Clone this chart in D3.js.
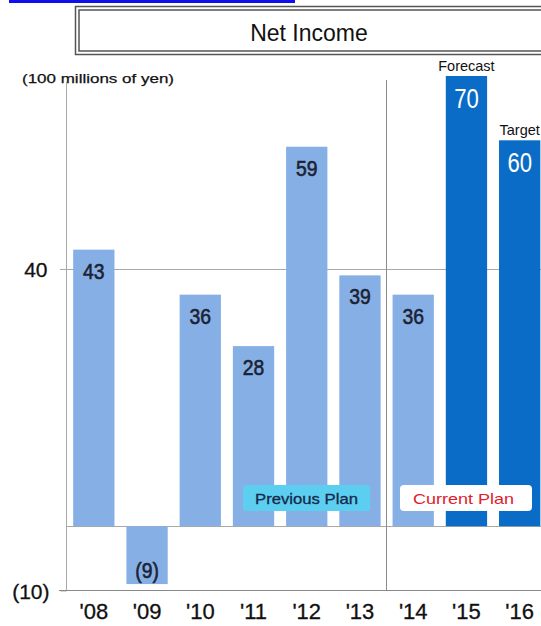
<!DOCTYPE html>
<html>
<head>
<meta charset="utf-8">
<script src="https://cdn.jsdelivr.net/npm/d3@7"></script>
<style>
  html, body { margin: 0; padding: 0; background: #fff; }
  svg { display: block; font-family: "Liberation Sans", Arial, sans-serif; }
</style>
</head>
<body>
<svg id="chart" width="541" height="626"></svg>
<script>
// Net income by fiscal year (100 millions of yen)
const years = ["'08", "'09", "'10", "'11", "'12", "'13", "'14", "'15", "'16"];
const values = [43, -9, 36, 28, 59, 39, 36, 70, 60];
const valueLabels = ["43", "(9)", "36", "28", "59", "39", "36", "70", "60"];
const barKinds = ["result", "result", "result", "result", "result", "result", "result", "plan", "plan"];
const barNotes = ["", "", "", "", "", "", "", "Forecast", "Target"];
const yTicks = [40, -10];
const yTickLabels = ["40", "(10)"];
const gridValues = [40, 0];

const svg = d3.select("#chart");
const W = 541;

const x = d3.scaleBand()
  .domain(years)
  .range([67.2, 546.3])
  .paddingInner(0.224)
  .paddingOuter(0.112);

const y = d3.scaleLinear().domain([-10, 70]).range([590.5, 76]);

const colors = { result: "#86b0e5", plan: "#0a6cc6" };

// header strip
svg.append("rect").attr("x", 9).attr("y", 0).attr("width", 286).attr("height", 3).attr("fill", "#1010ee");

// title box with double border
svg.append("rect").attr("x", 75.5).attr("y", 6.5).attr("width", 470).attr("height", 48)
  .attr("fill", "#fff").attr("stroke", "#555").attr("stroke-width", 1.5);
svg.append("rect").attr("x", 79).attr("y", 10).attr("width", 470).attr("height", 41)
  .attr("fill", "none").attr("stroke", "#555").attr("stroke-width", 1.5);
svg.append("text").attr("x", 309).attr("y", 41).attr("text-anchor", "middle")
  .attr("font-size", 23).attr("fill", "#111").text("Net Income");

// unit caption
svg.append("text").attr("x", 22).attr("y", 83).attr("font-size", 13.5)
  .attr("textLength", 152).attr("lengthAdjust", "spacingAndGlyphs")
  .attr("fill", "#111").attr("stroke", "#111").attr("stroke-width", 0.25)
  .text("(100 millions of yen)");

// gridlines
svg.append("g").selectAll("line").data(gridValues).join("line")
  .attr("x1", d => d === 0 ? 66 : 60).attr("x2", W)
  .attr("y1", d => Math.round(y(d)) + 0.5).attr("y2", d => Math.round(y(d)) + 0.5)
  .attr("stroke", "#a8a8a8").attr("stroke-width", 1);

// left axis via d3.axisLeft
const yAxis = svg.append("g").attr("transform", "translate(66.5,0)")
  .call(d3.axisLeft(y).tickValues(yTicks).tickSize(6).tickSizeOuter(0)
    .tickFormat((d, i) => yTickLabels[i]));
yAxis.select(".domain").attr("d", `M0,${y(70) + 6}V${y(-10)}`).attr("stroke", "#a8a8a8");
yAxis.selectAll(".tick line").attr("stroke", "#a8a8a8");
yAxis.selectAll(".tick text").attr("font-size", 21).attr("fill", "#111")
  .attr("stroke", "#111").attr("stroke-width", 0.3)
  .attr("font-family", "'Liberation Sans', Arial, sans-serif")
  .attr("x", (d) => d === -10 ? -17 : -19)
  .attr("dy", (d) => d === -10 ? "0.38em" : "0.35em");

// divider between previous and current plan
const divX = Math.round((x("'13") + x.bandwidth() + x("'14")) / 2) - 0.5;
svg.append("line").attr("x1", divX).attr("x2", divX).attr("y1", 80).attr("y2", y(-10))
  .attr("stroke", "#8c8c8c").attr("stroke-width", 1);

// bars
svg.append("g").selectAll("rect").data(values).join("rect")
  .attr("x", (d, i) => x(years[i]))
  .attr("width", x.bandwidth())
  .attr("y", d => y(Math.max(0, d)))
  .attr("height", d => Math.abs(y(d) - y(0)))
  .attr("fill", (d, i) => colors[barKinds[i]]);

// bottom axis line + year labels
svg.append("line").attr("x1", 59).attr("x2", W).attr("y1", y(-10)).attr("y2", y(-10))
  .attr("stroke", "#888").attr("stroke-width", 1);
const xAxis = svg.append("g").attr("transform", `translate(0,${y(-10)})`)
  .call(d3.axisBottom(x).tickSize(0));
xAxis.select(".domain").remove();
xAxis.selectAll(".tick text").attr("font-size", 22).attr("fill", "#111")
  .attr("stroke", "#111").attr("stroke-width", 0.3)
  .attr("font-family", "'Liberation Sans', Arial, sans-serif")
  .attr("dy", 0).attr("y", 28);

// value labels inside bars
const lbl = svg.append("g");
values.forEach((v, i) => {
  const cx = x(years[i]) + x.bandwidth() / 2;
  const plan = barKinds[i] === "plan";
  let by;
  if (v < 0) by = y(v) - 6;
  else by = y(v) + (plan ? 32 : 29);
  lbl.append("text")
    .attr("transform", `translate(${cx},${by}) scale(${plan ? 0.82 : 0.88},1)`)
    .attr("text-anchor", "middle")
    .attr("font-size", plan ? 27 : 22)
    .attr("fill", plan ? "#fff" : "#1c2233")
    .attr("stroke", plan ? "none" : "#1c2233").attr("stroke-width", 0.6)
    .text(valueLabels[i]);
  if (barNotes[i]) {
    lbl.append("text")
      .attr("x", cx).attr("y", y(v) - 5)
      .attr("text-anchor", "middle").attr("font-size", 14.5).attr("fill", "#111")
      .text(barNotes[i]);
  }
});

// plan tags
svg.append("rect").attr("x", 243).attr("y", 485).attr("width", 127).attr("height", 26)
  .attr("rx", 3).attr("fill", "#5ccff0");
svg.append("text").attr("x", 255).attr("y", 503.5).attr("font-size", 15)
  .attr("textLength", 103).attr("lengthAdjust", "spacingAndGlyphs")
  .attr("fill", "#14284a").attr("stroke", "#14284a").attr("stroke-width", 0.3)
  .text("Previous Plan");
svg.append("rect").attr("x", 400).attr("y", 485).attr("width", 132).attr("height", 26)
  .attr("rx", 4).attr("fill", "#fff");
svg.append("text").attr("x", 413).attr("y", 503.5).attr("font-size", 15)
  .attr("textLength", 101).attr("lengthAdjust", "spacingAndGlyphs")
  .attr("fill", "#e0202c").text("Current Plan");
</script>
</body>
</html>
